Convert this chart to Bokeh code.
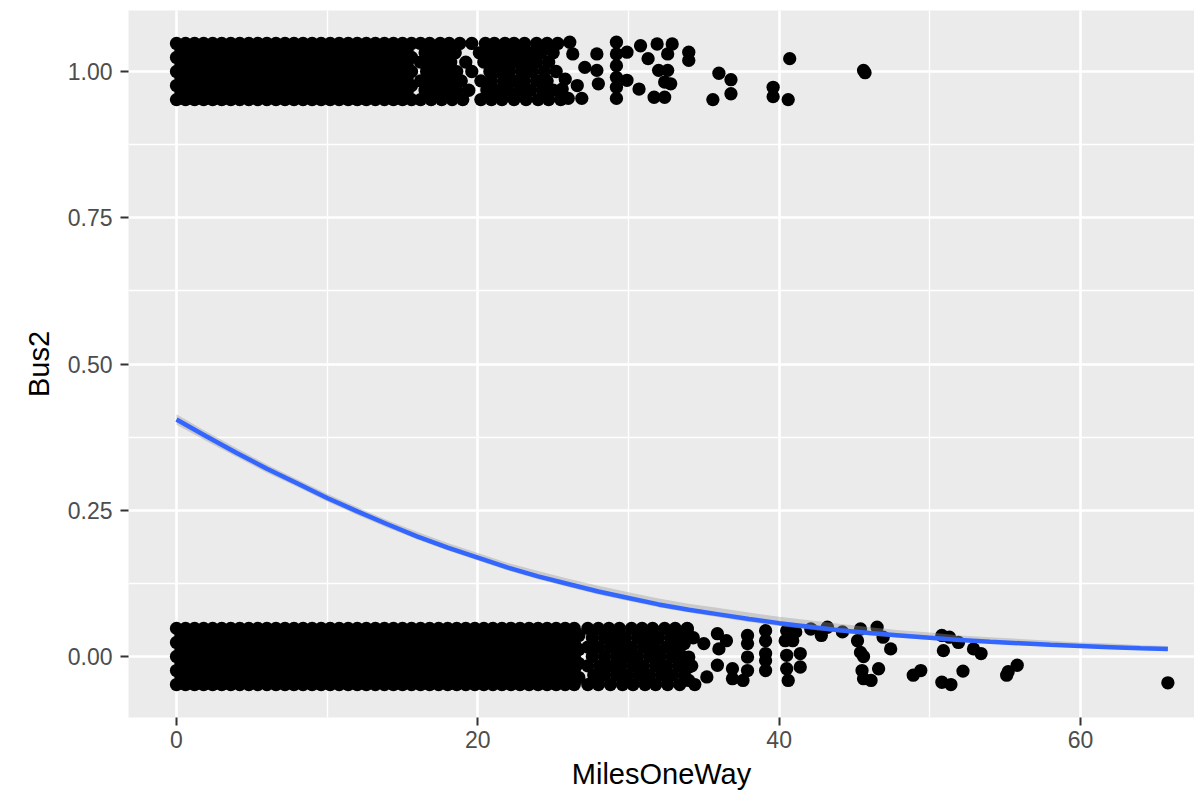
from bokeh.plotting import figure
from bokeh.models import Range1d, FixedTicker, NumeralTickFormatter
from bokeh.embed import file_html
from bokeh.resources import INLINE

# ---------------- data ----------------
# jitter rows (Bus2 value + vertical jitter) inside the solid black bands
bus1_dense_row_y = [1.048, 1.036, 1.024, 1.012, 1.000, 0.988, 0.976, 0.964, 0.952]
bus0_dense_row_y = [0.048, 0.036, 0.024, 0.012, 0.000, -0.012, -0.024, -0.036, -0.048]
# jitter rows used in the looser parts of the bands
bus1_semi_row_y = [1.048, 1.032, 1.016, 1.000, 0.984, 0.968, 0.952]
bus0_semi_row_y = [0.048, 0.032, 0.016, 0.000, -0.016, -0.032, -0.048]

# solid part of the Bus2 = 1 band (MilesOneWay 0 .. 15.6)
bus1_dense_a = [0.0, 0.6, 1.2, 1.8, 2.4, 3.0, 3.6, 4.2, 4.8, 5.4, 6.0, 6.6, 7.2, 7.8,
                8.4, 9.0, 9.6, 10.2, 10.8, 11.4, 12.0, 12.6, 13.2, 13.8, 14.4, 15.0, 15.6]
bus1_dense_b = [0.3, 0.9, 1.5, 2.1, 2.7, 3.3, 3.9, 4.5, 5.1, 5.7, 6.3, 6.9, 7.5, 8.1,
                8.7, 9.3, 9.9, 10.5, 11.1, 11.7, 12.3, 12.9, 13.5, 14.1, 14.7, 15.3]

# looser part of the Bus2 = 1 band (16 .. 25.5), one list per jitter row
bus1_semi = [
    [16.2, 16.8, 17.5, 18.1, 18.8, 19.6, 20.5, 21.1, 21.8, 22.4, 23.1, 23.9, 24.6, 25.3],
    [16.5, 17.1, 17.8, 18.5, 20.1, 20.8, 21.5, 22.1, 22.8, 23.5, 24.2, 25.0],
    [16.2, 16.9, 17.5, 18.2, 19.2, 20.4, 21.1, 21.8, 22.5, 23.2, 23.9, 24.7],
    [16.6, 17.2, 17.9, 18.6, 19.6, 20.8, 21.4, 22.1, 22.9, 23.6, 24.4, 25.2],
    [16.2, 16.9, 17.5, 18.2, 18.9, 20.2, 20.9, 21.7, 22.4, 23.1, 23.9, 24.6],
    [16.5, 17.2, 17.9, 18.6, 19.4, 20.6, 21.3, 22.0, 22.8, 23.5, 24.3, 25.0],
    [16.2, 16.9, 17.6, 18.3, 19.0, 20.2, 20.9, 21.6, 22.4, 23.2, 24.0, 24.7, 25.5],
]

# scattered Bus2 = 1 points
bus1_sparse_x = [25.6, 25.8, 26.0, 26.1, 26.3, 26.6, 26.9, 27.1, 27.9, 27.9, 28.0,
                 29.2, 29.2, 29.2, 29.2, 29.2, 29.2, 29.9, 29.9, 30.7, 30.8, 31.3,
                 31.9, 32.9, 32.6, 32.0, 32.6, 32.4, 32.8, 31.7, 32.4, 34.0, 34.0,
                 35.6, 36.0, 36.8, 36.8, 39.6, 39.6, 40.6, 40.7, 45.6, 45.7]
bus1_sparse_y = [0.970, 0.987, 0.954, 1.050, 1.030, 0.976, 0.954, 1.007, 1.030, 1.002, 0.979,
                 1.050, 1.030, 1.010, 0.990, 0.973, 0.954, 1.033, 0.985, 0.970, 1.044, 1.022,
                 1.047, 1.047, 1.030, 1.002, 1.002, 0.982, 0.979, 0.956, 0.956, 1.033, 1.019,
                 0.952, 0.997, 0.986, 0.962, 0.973, 0.957, 0.952, 1.022, 1.002, 0.998]

# solid part of the Bus2 = 0 band (MilesOneWay 0 .. 26.7)
bus0_dense_a = [0.0, 0.6, 1.2, 1.8, 2.4, 3.0, 3.6, 4.2, 4.8, 5.4, 6.0, 6.6, 7.2, 7.8,
                8.4, 9.0, 9.6, 10.2, 10.8, 11.4, 12.0, 12.6, 13.2, 13.8, 14.4, 15.0, 15.6,
                16.2, 16.8, 17.4, 18.0, 18.6, 19.2, 19.8, 20.4, 21.0, 21.6, 22.2, 22.8,
                23.4, 24.0, 24.6, 25.2, 25.8, 26.4]
bus0_dense_b = [0.3, 0.9, 1.5, 2.1, 2.7, 3.3, 3.9, 4.5, 5.1, 5.7, 6.3, 6.9, 7.5, 8.1,
                8.7, 9.3, 9.9, 10.5, 11.1, 11.7, 12.3, 12.9, 13.5, 14.1, 14.7, 15.3,
                15.9, 16.5, 17.1, 17.7, 18.3, 18.9, 19.5, 20.1, 20.7, 21.3, 21.9, 22.5,
                23.1, 23.7, 24.3, 24.9, 25.5, 26.1, 26.7]

# looser part of the Bus2 = 0 band (27 .. 34.5)
bus0_semi = [
    [27.3, 28.0, 28.7, 29.4, 30.2, 30.9, 31.6, 32.4, 33.1, 33.9],
    [27.6, 28.4, 29.1, 29.8, 30.6, 31.3, 32.0, 32.8, 33.5, 34.3],
    [27.3, 28.0, 28.8, 29.5, 30.2, 31.0, 31.7, 32.5, 33.2],
    [27.6, 28.4, 29.2, 29.9, 30.6, 31.4, 32.1, 32.9, 33.6],
    [27.3, 28.1, 28.8, 29.5, 30.3, 31.0, 31.8, 32.5, 33.3, 34.2],
    [27.7, 28.4, 29.2, 29.9, 30.7, 31.4, 32.2, 32.9, 33.7],
    [27.3, 28.0, 28.8, 29.6, 30.3, 31.1, 31.8, 32.6, 33.4, 34.4],
]

# scattered Bus2 = 0 points
bus0_sparse_x = [33.9, 33.7, 34.0, 34.0, 34.0, 35.0, 35.9, 36.5, 36.0, 35.2, 35.9, 36.9,
                 36.9, 37.6, 37.9, 37.9, 37.9, 37.9, 39.1, 39.1, 39.1, 39.1, 39.1,
                 40.5, 41.1, 40.4, 40.9, 40.5, 41.4, 40.5, 41.4, 40.6,
                 42.1, 42.8, 43.2, 44.2, 45.4, 45.2, 45.4, 45.6, 46.5, 46.9, 47.4,
                 45.5, 45.6, 46.1, 46.6, 48.9, 49.4, 50.8, 51.3, 50.9, 50.8, 51.4,
                 51.9, 52.9, 53.4, 52.2, 55.1, 55.2, 55.8, 65.8]
bus0_sparse_y = [0.047, 0.022, -0.001, -0.018, -0.041, 0.022, 0.039, 0.027, 0.013, -0.035, -0.015, -0.021,
                 -0.038, -0.041, 0.036, 0.022, -0.001, -0.024, 0.044, 0.027, 0.005, -0.007, -0.024,
                 0.044, 0.042, 0.027, 0.027, 0.002, 0.005, -0.021, -0.018, -0.041,
                 0.047, 0.036, 0.050, 0.042, 0.047, 0.027, 0.007, 0.000, 0.050, 0.033, 0.013,
                 -0.024, -0.038, -0.041, -0.021, -0.032, -0.024, 0.036, 0.033, 0.010, -0.044, -0.048,
                 0.024, 0.013, 0.005, -0.025, -0.032, -0.026, -0.015, -0.045]

# logistic smooth and its confidence band
curve_x = [0, 2, 4, 6, 8, 10, 12, 14, 16, 18, 20, 22, 24, 26, 28, 30, 32, 34, 36, 38,
           40, 42, 44, 46, 48, 50, 52, 54, 56, 58, 60, 62, 64, 65.8]
curve_y = [0.405, 0.376, 0.348, 0.321, 0.296, 0.271, 0.248, 0.226, 0.205, 0.186, 0.169,
           0.152, 0.137, 0.124, 0.111, 0.100, 0.089, 0.080, 0.072, 0.064, 0.057, 0.051,
           0.045, 0.040, 0.036, 0.032, 0.028, 0.025, 0.0225, 0.020, 0.018, 0.016, 0.014, 0.0126]
band_lo = [0.396, 0.368, 0.341, 0.314, 0.290, 0.265, 0.242, 0.220, 0.200, 0.181, 0.164,
           0.147, 0.132, 0.119, 0.106, 0.095, 0.084, 0.075, 0.067, 0.059, 0.052, 0.046,
           0.041, 0.036, 0.032, 0.028, 0.025, 0.022, 0.019, 0.017, 0.015, 0.013, 0.011, 0.0096]
band_hi = [0.414, 0.384, 0.356, 0.328, 0.303, 0.278, 0.255, 0.233, 0.213, 0.194, 0.177,
           0.160, 0.146, 0.133, 0.121, 0.110, 0.099, 0.090, 0.083, 0.075, 0.068, 0.062,
           0.056, 0.050, 0.045, 0.041, 0.036, 0.033, 0.030, 0.027, 0.024, 0.022, 0.019, 0.018]

x_ticks = [0, 20, 40, 60]
x_minor = [10, 30, 50]
y_ticks = [0.0, 0.25, 0.5, 0.75, 1.0]
y_minor = [0.125, 0.375, 0.625, 0.875]
x_title = "MilesOneWay"
y_title = "Bus2"


# ---------------- assemble point table ----------------
def collect(dense_y, dense_a, dense_b, semi_y, semi, sparse_x, sparse_y):
    xs, ys = [], []
    for i, yv in enumerate(dense_y):
        row = dense_a if i % 2 == 0 else dense_b
        xs += row
        ys += [yv] * len(row)
    for i, yv in enumerate(semi_y):
        xs += semi[i]
        ys += [yv] * len(semi[i])
    xs += sparse_x
    ys += sparse_y
    return xs, ys


b1x, b1y = collect(bus1_dense_row_y, bus1_dense_a, bus1_dense_b, bus1_semi_row_y, bus1_semi,
                   bus1_sparse_x, bus1_sparse_y)
b0x, b0y = collect(bus0_dense_row_y, bus0_dense_a, bus0_dense_b, bus0_semi_row_y, bus0_semi,
                   bus0_sparse_x, bus0_sparse_y)

# ---------------- figure ----------------
p = figure(width=1194, height=794, output_backend="svg", toolbar_location=None,
           x_range=Range1d(-3.186, 67.567), y_range=Range1d(-0.1043, 1.1043),
           min_border_left=128, min_border_right=0, min_border_top=10, min_border_bottom=77,
           background_fill_color="#EBEBEB", border_fill_color="white",
           outline_line_color=None, x_axis_label=x_title, y_axis_label=y_title)

p.xaxis.ticker = FixedTicker(ticks=x_ticks, minor_ticks=x_minor)
p.yaxis.ticker = FixedTicker(ticks=y_ticks, minor_ticks=y_minor)
p.yaxis.formatter = NumeralTickFormatter(format="0.00")

for g in (p.xgrid, p.ygrid):
    g.grid_line_color = "white"
    g.grid_line_width = 2.6
    g.minor_grid_line_color = "white"
    g.minor_grid_line_width = 1.3

for ax in (p.xaxis, p.yaxis):
    ax.axis_line_color = None
    ax.major_tick_line_color = "#333333"
    ax.major_tick_line_width = 2
    ax.major_tick_in = 0
    ax.major_tick_out = 8
    ax.minor_tick_line_color = None
    ax.major_label_text_font = "Liberation Sans"
    ax.major_label_text_font_size = "23px"
    ax.major_label_text_color = "#4D4D4D"
    ax.axis_label_text_font = "Liberation Sans"
    ax.axis_label_text_font_size = "29px"
    ax.axis_label_text_font_style = "normal"
    ax.axis_label_text_color = "black"

p.xaxis.major_label_standoff = 5
p.xaxis.axis_label_standoff = 7
p.yaxis.major_label_standoff = 8
p.yaxis.axis_label_standoff = 10

p.scatter(b0x, b0y, size=13.3, fill_color="black", line_color=None)
p.scatter(b1x, b1y, size=13.3, fill_color="black", line_color=None)
p.varea(x=curve_x, y1=band_lo, y2=band_hi, fill_color="#999999", fill_alpha=0.4)
p.line(curve_x, curve_y, line_color="#3366FF", line_width=4.5)

open("out.html", "w").write(file_html(p, INLINE, title="Bus2 vs MilesOneWay"))
